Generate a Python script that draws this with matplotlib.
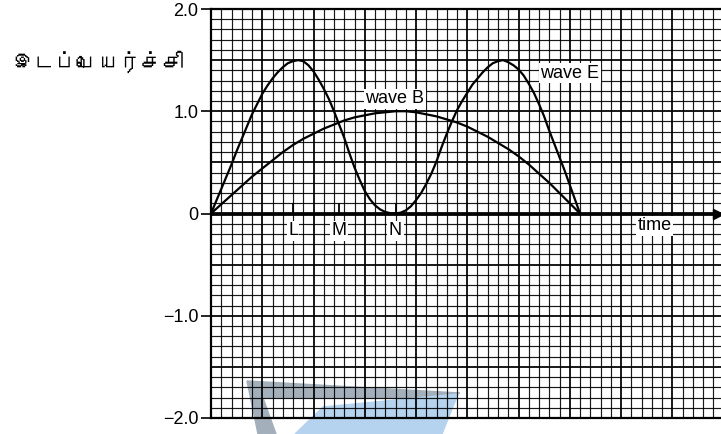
import matplotlib
matplotlib.use('Agg')
import matplotlib.pyplot as plt
from matplotlib import font_manager
from matplotlib.patches import Polygon
import numpy as np

# time in graph-paper squares, displacement in arbitrary units
time_b = [0, 1, 2, 3, 4, 5, 6, 7, 8, 9, 10, 11, 12, 13, 14, 15, 16, 17, 18,
          19, 20, 21, 22, 23, 24, 25, 26, 27, 28, 29, 30, 31, 32, 33, 34, 35, 36]
wave_b = [0.0, 0.09, 0.18, 0.27, 0.36, 0.44, 0.52, 0.60, 0.67, 0.73, 0.78, 0.83, 0.87,
          0.91, 0.94, 0.96, 0.98, 0.99, 1.0, 1.0, 0.99, 0.97, 0.95, 0.92, 0.89, 0.85,
          0.80, 0.75, 0.69, 0.63, 0.56, 0.48, 0.39, 0.30, 0.20, 0.10, 0.0]

time_e = [0, 0.5, 1, 1.5, 2, 2.5, 3, 3.5, 4, 4.5, 5, 5.5, 6, 6.5, 7, 7.5, 8, 8.5,
          9, 9.5, 10, 10.5, 11, 11.5, 12, 12.5, 13, 13.5, 14, 14.5, 15, 15.5, 16, 16.5,
          17, 17.5, 18, 18.5, 19, 19.5, 20, 20.5, 21, 21.5, 22, 22.5, 23, 23.5, 24, 24.5,
          25, 25.5, 26, 26.5, 27, 27.5, 28, 28.5, 29, 29.5, 30, 30.5, 31, 31.5, 32, 32.5,
          33, 33.5, 34, 34.5, 35, 35.5, 36]
wave_e = [0.0, 0.12, 0.24, 0.36, 0.48, 0.61, 0.73, 0.85, 0.97, 1.07, 1.17, 1.25, 1.32,
          1.38, 1.43, 1.47, 1.49, 1.50, 1.49, 1.45, 1.39, 1.31, 1.22, 1.12, 1.00, 0.87,
          0.74, 0.59, 0.45, 0.33, 0.22, 0.14, 0.08, 0.04, 0.015, 0.003, 0.0, 0.008, 0.03,
          0.07, 0.13, 0.20, 0.29, 0.39, 0.51, 0.65, 0.78, 0.90, 1.01, 1.10, 1.18, 1.26,
          1.32, 1.38, 1.43, 1.47, 1.49, 1.50, 1.48, 1.45, 1.41, 1.35, 1.27, 1.18, 1.07,
          0.95, 0.81, 0.68, 0.55, 0.42, 0.28, 0.14, 0.0]

y_ticks = [-2.0, -1.0, 0.0, 1.0, 2.0]
y_tick_labels = ['\u22122.0', '\u22121.0', '0', '1.0', '2.0']
point_names = ['L', 'M', 'N']
point_times = [8.0, 12.5, 18.0]
y_label = 'இடப்பெயர்ச்சி'

W, H = 721, 434


def find_font_for(ch):
    """Return the name of an installed font that has a glyph for ch"""
    try:
        from fontTools.ttLib import TTFont
    except ImportError:
        return None
    for f in font_manager.fontManager.ttflist:
        try:
            tt = TTFont(f.fname, fontNumber=0, lazy=True)
            if ord(ch) in tt.getBestCmap():
                return f.name
        except Exception:
            continue
    return None


def px(x, y):
    # reference pixel -> figure fraction
    return (x / W, 1 - y / H)


plt.rcParams['font.family'] = ['Liberation Sans', 'DejaVu Sans']

fig = plt.figure(figsize=(W / 100, H / 100), dpi=100)
ax = fig.add_axes([211 / W, 16 / H, 510 / W, 409 / H])
ax.patch.set_visible(False)

# scanner-logo watermark behind the paper grid
fig.patches.append(Polygon([px(247, 381), px(460, 393), px(415, 398), px(263, 398),
                            px(276, 434), px(258, 434)], closed=True,
                           transform=fig.transFigure, color='#a3b0bc', zorder=-1))
fig.patches.append(Polygon([px(323, 407), px(458, 394), px(442, 434), px(295, 434)],
                           closed=True, transform=fig.transFigure, color='#b5d3ee', zorder=-1))

x_max = (W - 211) / 10.25
ax.set_xlim(0, x_max)
ax.set_ylim(-2, 2)

# graph paper
for i, xv in enumerate(np.arange(0, x_max, 1.0)):
    ax.axvline(xv, color='black', lw=1.4 if i % 5 == 0 else 0.85, alpha=0.9, zorder=0.5)
for i, yv in enumerate(np.arange(-2.0, 2.01, 0.1)):
    ax.axhline(yv, color='black', lw=1.4 if i % 5 == 0 else 0.85, alpha=0.9, zorder=0.5)

ax.axhline(0, color='black', lw=2.0, zorder=2)
ax.plot([x_max - 0.3], [0], marker='>', color='black', ms=7, clip_on=False, zorder=3)

ax.plot(time_b, wave_b, color='black', lw=1.6, zorder=3)
ax.plot(time_e, wave_e, color='black', lw=1.6, zorder=3)

ax.vlines(point_times, 0, 0.1, color='black', lw=1.3, zorder=3)
box = dict(facecolor='white', edgecolor='none', pad=1)
for name, t in zip(point_names, point_times):
    ax.text(t, -0.17, name, ha='center', va='center', fontsize=13, bbox=box, zorder=4)

ax.text(17.95, 1.12, 'wave B', ha='center', va='center', fontsize=13, bbox=box, zorder=4)
ax.text(35.0, 1.37, 'wave E', ha='center', va='center', fontsize=13, bbox=box, zorder=4)
ax.text(43.3, -0.12, 'time', ha='center', va='center', fontsize=13, bbox=box, zorder=4)

for side in ['left', 'top', 'bottom']:
    ax.spines[side].set_linewidth(1.6)
ax.spines['right'].set_visible(False)

ax.set_xticks([])
ax.set_yticks(y_ticks)
ax.set_yticklabels(y_tick_labels)
ax.tick_params(axis='y', length=7, width=1.2, pad=2, labelsize=13)

tamil_font = find_font_for('\u0b87')
fam = [tamil_font, 'DejaVu Sans'] if tamil_font else ['DejaVu Sans']
fig.text(*px(98, 62), y_label, ha='center', va='center', fontsize=15.5, family=fam)

plt.savefig('out.png', dpi=100)
plt.close()
